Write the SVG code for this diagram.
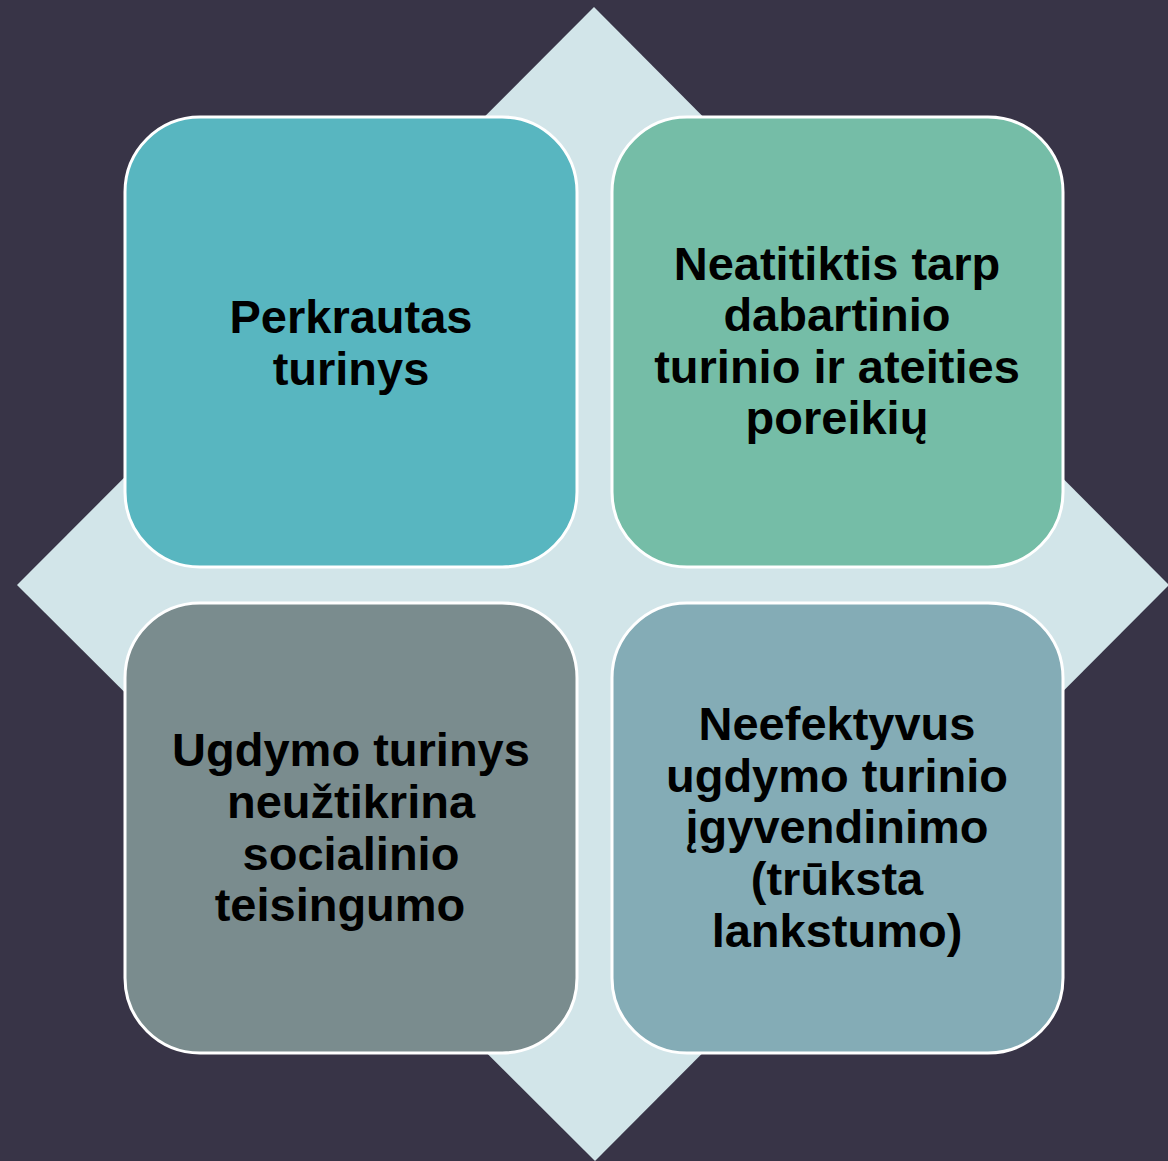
<svg xmlns="http://www.w3.org/2000/svg" width="1168" height="1161" viewBox="0 0 1168 1161">
<style>
.box{stroke:#ffffff;stroke-width:3}
.t{font-family:"Liberation Sans",Arial,sans-serif;font-weight:bold;font-size:47px;fill:#000000;text-anchor:middle}
</style>
<rect x="0" y="0" width="1168" height="1161" fill="#383447"/>
<polygon id="diamond" points="594,7 1169,585 595,1161 17,585" fill="#D2E5E9"/>
<g id="connectors"></g>
<g id="n1">
<rect class="box" x="125" y="117" width="452" height="450" rx="75" fill="#58B6C0"/>
<text class="t" x="351" y="333">Perkrautas</text>
<text class="t" x="351" y="385">turinys</text>
</g>
<g id="n2">
<rect class="box" x="612" y="117" width="451" height="450" rx="75" fill="#75BDA7"/>
<text class="t" x="837" y="280">Neatitiktis tarp</text>
<text class="t" x="837" y="331">dabartinio</text>
<text class="t" x="837" y="383">turinio ir ateities</text>
<text class="t" x="837" y="434">poreikių</text>
</g>
<g id="n3">
<rect class="box" x="125" y="603" width="452" height="450" rx="75" fill="#7A8C8E"/>
<text class="t" x="351" y="766">Ugdymo turinys</text>
<text class="t" x="351" y="818">neužtikrina</text>
<text class="t" x="351" y="870">socialinio</text>
<text class="t" x="340" y="921">teisingumo</text>
</g>
<g id="n4">
<rect class="box" x="612" y="603" width="451" height="450" rx="75" fill="#84ACB6"/>
<text class="t" x="837" y="740">Neefektyvus</text>
<text class="t" x="837" y="792">ugdymo turinio</text>
<text class="t" x="837" y="843">įgyvendinimo</text>
<text class="t" x="837" y="895">(trūksta</text>
<text class="t" x="837" y="947">lankstumo)</text>
</g>
</svg>
